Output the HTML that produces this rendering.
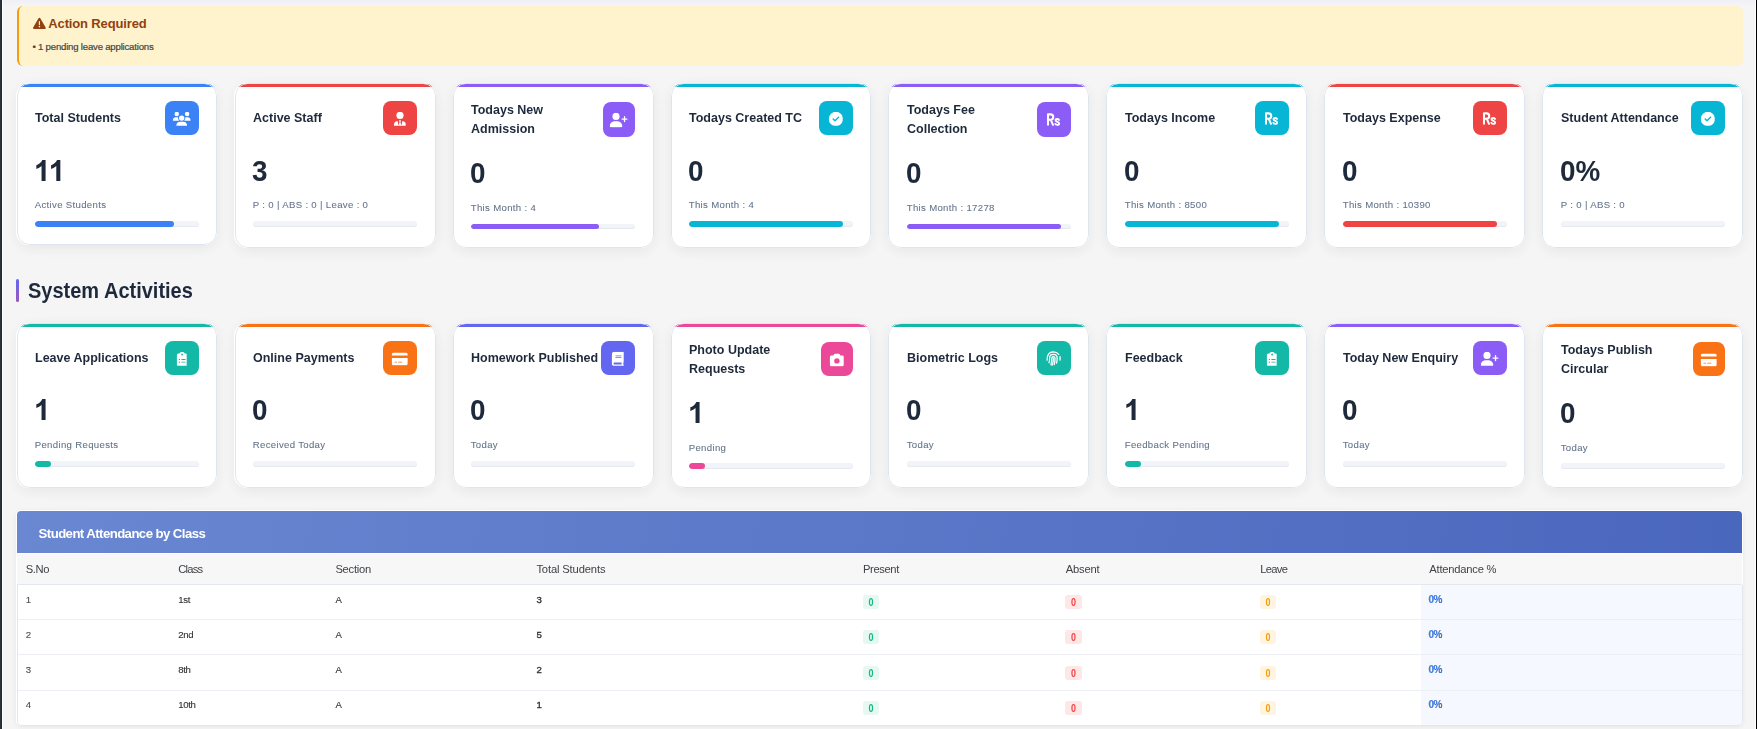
<!DOCTYPE html>
<html><head><meta charset="utf-8"><title>Dashboard</title>
<style>
*{box-sizing:border-box;margin:0;padding:0}
html,body{width:1757px;height:729px;overflow:hidden}
body{background:#f5f5f5;font-family:"Liberation Sans",sans-serif;position:relative;color:#1e293b}
.wrap{position:absolute;left:0;top:0;width:1757px;height:729px;opacity:.9999}
.topg{position:absolute;left:0;top:0;width:1757px;height:6px;background:linear-gradient(#eef0f6,#f5f5f5)}
.wl{position:absolute;top:0;width:1px;height:729px;background:#fff}
.lstrip{position:absolute;left:0;top:0;width:2px;height:729px;background:linear-gradient(90deg,#2d333b 50%,#232931 50%)}
.rline{position:absolute;left:1756px;top:0;width:1px;height:729px;background:#000}
.alert{position:absolute;left:17px;top:6px;width:1726px;height:60px;background:#fff3cd;border-left:2.2px solid #f59e0b;border-radius:6px}
.alert svg{position:absolute;left:14px;top:10.5px}
.alert .t{position:absolute;left:29.3px;top:9.5px;font-size:13px;font-weight:700;color:#92400e;letter-spacing:-0.14px;line-height:16px;white-space:nowrap}
.alert .m{position:absolute;left:13.4px;top:34.5px;font-size:9.6px;color:#444;-webkit-text-stroke:.2px #444;letter-spacing:-0.2px;line-height:12px;white-space:nowrap}
.card{position:absolute;background:#fff;border-radius:12.8px;box-shadow:0 3px 16px rgba(0,0,0,.07);overflow:hidden}
.bd{position:absolute;left:0;top:0;right:0;bottom:0;border:1px solid #dfe5ee;border-radius:12.8px;pointer-events:none}
.strip{position:absolute;left:0;right:0;top:1px;height:3.1px}
.in{position:absolute;width:200px;height:10px}
.ttl{position:absolute;left:18.1px;font-size:13px;font-weight:700;line-height:18.9px;color:#1e293b;white-space:nowrap;transform:scaleX(.962);transform-origin:0 50%}
.ic{position:absolute;border-radius:8px;display:flex;align-items:center;justify-content:center}
.ic svg{display:block;transform:translate(-.3px,.8px)}
.ic svg.rsv{transform:translate(-.1px,.85px)}
.rs{font-size:17.3px;font-weight:700;color:#fff;transform:translate(-.5px,.9px) scaleX(.6);display:block;line-height:1;letter-spacing:0;-webkit-text-stroke:.7px #fff}
.num{position:absolute;left:17.2px;font-size:29.6px;font-weight:700;line-height:36.8px;color:#1e293b;white-space:nowrap;transform:scaleX(.94);transform-origin:0 29px}
.one{position:absolute;left:16.85px}
.sub{position:absolute;left:17.8px;font-size:9.6px;letter-spacing:.33px;line-height:14.4px;color:#64748b;white-space:nowrap;-webkit-text-stroke:.08px #64748b}
.bar{position:absolute;left:17.8px;width:164.3px;height:5.2px;border-radius:4px;background:#f1f5f9;overflow:hidden;box-shadow:inset 0 -1px 1px rgba(100,116,139,.09)}
.fill{height:100%;border-radius:4px}
.sect{position:absolute;left:16px;top:279px;height:23px;width:3.2px;border-radius:2px;background:linear-gradient(#6366f1,#9b59b6)}
.secttxt{position:absolute;left:27.6px;top:279.2px;font-size:21.5px;font-weight:700;line-height:24px;color:#1e293b;white-space:nowrap;transform:scaleX(.93);transform-origin:0 50%}
.tbl{position:absolute;left:16px;top:510px;width:1727px;height:216px;background:#fff;border-radius:5px;overflow:hidden;box-shadow:0 1px 6px rgba(0,0,0,.07)}
.thead{position:absolute;left:1px;top:1px;width:1725px;height:42px;border-radius:4px 4px 0 0;background:linear-gradient(100deg,#6a87d2 0%,#4a67be 100%)}
.thead span{position:absolute;left:21.6px;top:14.9px;font-size:13.2px;font-weight:700;color:#fff;letter-spacing:-.57px;line-height:16px;white-space:nowrap}
.thr{position:absolute;left:1px;top:44px;width:1725px;height:30.7px;background:#f7f7f7;border-bottom:1px solid #e3e7ee}
.thr span{position:absolute;top:7.5px;font-size:11.2px;color:#3f4246;letter-spacing:-.33px;line-height:14px;white-space:nowrap}
.tr{position:absolute;left:1px;width:1725px;height:35.32px;border-bottom:1px solid #eceff3}
.tbd{position:absolute;left:1px;right:0;top:74.6px;bottom:0;border:1px solid #e1e6ef;border-top:0;border-radius:0 0 5px 5px}
.td{position:absolute;top:9.8px;font-size:9.6px;line-height:12px;color:#333;white-space:nowrap;letter-spacing:-.4px;-webkit-text-stroke:.12px #333}
.td.c0{color:#555}
.td.b{-webkit-text-stroke:.35px #333;color:#333}
.td.pc{font-weight:700;color:#3b82f6;top:9.2px;letter-spacing:-.6px;font-size:10px}
.bdg{position:absolute;top:10.5px;width:15.8px;height:13.8px;border-radius:3px;font-size:10.2px;font-weight:700;line-height:15.2px;text-align:center}
.bdg i{display:block;font-style:normal;transform:scaleX(.88)}
.bdg.g{background:#e6f8f1;color:#10b981}
.bdg.r{background:#fde7e7;color:#ef4444}
.bdg.o{background:#fff4e0;color:#f59e0b}
.lastbg{position:absolute;left:1404.2px;right:0;top:0;bottom:0;background:#f5f8fe}
</style></head><body><div class="wrap">
<div class="topg"></div>
<div class="alert"><svg width="12.8" height="12.8" viewBox="0 0 512 512"><path fill="#92400e" d="M256 32c14.200 0 27.300 7.500 34.500 19.800l216 368c7.300 12.400 7.300 27.700 .2 40.100S486.300 480 472 480H40c-14.300 0-27.600-7.700-34.700-20.100s-7-27.800 .2-40.100l216-368C228.700 39.500 241.800 32 256 32zm0 128c-13.300 0-24 10.700-24 24V296c0 13.300 10.700 24 24 24s24-10.700 24-24V184c0-13.300-10.700-24-24-24zm32 224a32 32 0 1 0 -64 0 32 32 0 1 0 64 0z"/></svg><div class="t">Action Required</div><div class="m">&bull; 1 pending leave applications</div></div>
<div class="card" style="left:17px;top:83px;width:200px;height:162px;box-shadow:-1px 0 0 0 #fff,0 3px 16px rgba(0,0,0,.07)">
<div class="strip" style="background:#3b82f6"></div><div class="bd"></div>
<div class="in" style="left:-0.10px;top:0.8px">
<div class="ttl" style="top:24.80px">Total Students</div>
<div class="ic" style="background:#3b82f6;left:148.2px;top:17.2px;width:33.8px;height:33.8px"><svg width="18.00" height="14.4" viewBox="0 0 640 512"><path fill="#fff" d="M144 0a80 80 0 1 1 0 160A80 80 0 1 1 144 0zM512 0a80 80 0 1 1 0 160A80 80 0 1 1 512 0zM0 298.7C0 239.8 47.8 192 106.7 192h42.700c15.900 0 31 3.500 44.600 9.700c-1.300 7.200-1.900 14.700-1.900 22.300c0 38.200 16.800 72.500 43.300 96c-.2 0-.4 0-.7 0H21.300C9.600 320 0 310.400 0 298.700zM405.300 320c-.2 0-.4 0-.7 0c26.600-23.500 43.300-57.800 43.300-96c0-7.600-.7-15-1.900-22.300c13.600-6.300 28.700-9.700 44.600-9.700h42.700C592.200 192 640 239.800 640 298.700c0 11.800-9.600 21.300-21.300 21.300H405.300zM224 224a96 96 0 1 1 192 0 96 96 0 1 1 -192 0zM128 485.300C128 411.700 187.700 352 261.300 352H378.700C452.300 352 512 411.700 512 485.300c0 14.700-11.900 26.700-26.700 26.700H154.700c-14.700 0-26.700-11.900-26.700-26.700z"/></svg></div>
<svg class="one" style="top:76.04px" width="31.13" height="21.16" viewBox="0 0 2165.3 1472" fill="#1e293b"><path transform="translate(0.0,1472) scale(1,-1)" d="M806 0H525V1059Q371 915 162 846V1101Q272 1137 401 1237.5Q530 1338 578 1472H806Z"/><path transform="translate(1026.3,1472) scale(1,-1)" d="M806 0H525V1059Q371 915 162 846V1101Q272 1137 401 1237.5Q530 1338 578 1472H806Z"/></svg>
<div class="sub" style="top:114.30px">Active Students</div>
<div class="bar" style="top:137.2px;height:5.8px"><div class="fill" style="width:85%;background:#3b82f6"></div></div>
</div></div>
<div class="card" style="left:235px;top:83px;width:201px;height:165px;box-shadow:-1px 0 0 0 #fff,0 3px 16px rgba(0,0,0,.07)">
<div class="strip" style="background:#ef4444"></div><div class="bd"></div>
<div class="in" style="left:-0.10px;top:0.8px">
<div class="ttl" style="top:24.80px">Active Staff</div>
<div class="ic" style="background:#ef4444;left:148.2px;top:17.2px;width:33.8px;height:33.8px"><svg width="12.60" height="14.4" viewBox="0 0 448 512"><path fill="#fff" d="M96 128a128 128 0 1 0 256 0A128 128 0 1 0 96 128zm94.500 200.200l18.600 31L175.800 483.100l-36-146.900c-2-8.100-9.800-13.400-17.900-11.300C51.900 342.400 0 405.800 0 481.300c0 17 13.800 30.700 30.700 30.700H162.500c0 0 0 0 .1 0H168 280h5.500c0 0 0 0 .1 0H417.300c17 0 30.700-13.800 30.700-30.700c0-75.500-51.900-138.900-121.900-156.400c-8.100-2-15.900 3.300-17.900 11.300l-36 146.900L238.900 359.200l18.600-31c6.400-10.700-1.300-24.200-13.700-24.200H224 204.300c-12.400 0-20.100 13.600-13.700 24.200z"/></svg></div>
<div class="num" style="top:69.40px">3</div>
<div class="sub" style="top:114.30px">P : 0 | ABS : 0 | Leave : 0</div>
<div class="bar" style="top:137.2px;height:5.8px"></div>
</div></div>
<div class="card" style="left:453px;top:83px;width:201px;height:165px">
<div class="strip" style="background:#8b5cf6"></div><div class="bd"></div>
<div class="in" style="left:-0.10px;top:0.8px">
<div class="ttl" style="top:16.80px">Todays New<br>Admission</div>
<div class="ic" style="background:#8b5cf6;left:149.8px;top:18.4px;width:32.0px;height:34.5px"><svg width="18.00" height="14.4" viewBox="0 0 640 512"><path fill="#fff" d="M96 128a128 128 0 1 1 256 0A128 128 0 1 1 96 128zM0 482.300C0 383.800 79.800 304 178.300 304h91.400C368.200 304 448 383.800 448 482.300c0 16.400-13.300 29.700-29.700 29.700H29.700C13.300 512 0 498.700 0 482.300zM504 312V248H440c-13.300 0-24-10.700-24-24s10.700-24 24-24h64V136c0-13.300 10.700-24 24-24s24 10.700 24 24v64h64c13.300 0 24 10.700 24 24s-10.700 24-24 24H552v64c0 13.300-10.700 24-24 24s-24-10.700-24-24z"/></svg></div>
<div class="num" style="top:71.40px">0</div>
<div class="sub" style="top:117.00px">This Month : 4</div>
<div class="bar" style="top:140.0px;height:5.1px"><div class="fill" style="width:78%;background:#8b5cf6"></div></div>
</div></div>
<div class="card" style="left:671px;top:83px;width:200px;height:165px">
<div class="strip" style="background:#06b6d4"></div><div class="bd"></div>
<div class="in" style="left:-0.10px;top:0.8px">
<div class="ttl" style="top:24.80px">Todays Created TC</div>
<div class="ic" style="background:#06b6d4;left:148.2px;top:17.2px;width:33.8px;height:33.8px"><svg width="14.40" height="14.4" viewBox="0 0 512 512"><path fill="#fff" d="M256 512A256 256 0 1 0 256 0a256 256 0 1 0 0 512zM369 209L241 337c-9.400 9.400-24.600 9.400-33.900 0l-64-64c-9.400-9.400-9.400-24.600 0-33.900s24.600-9.400 33.900 0l47 47L335 175c9.400-9.400 24.600-9.400 33.900 0s9.400 24.600 0 33.900z"/></svg></div>
<div class="num" style="top:69.40px">0</div>
<div class="sub" style="top:114.30px">This Month : 4</div>
<div class="bar" style="top:137.2px;height:5.8px"><div class="fill" style="width:94%;background:#06b6d4"></div></div>
</div></div>
<div class="card" style="left:888px;top:83px;width:201px;height:165px">
<div class="strip" style="background:#8b5cf6"></div><div class="bd"></div>
<div class="in" style="left:0.90px;top:0.8px">
<div class="ttl" style="top:16.80px">Todays Fee<br>Collection</div>
<div class="ic" style="background:#8b5cf6;left:148.2px;top:18.4px;width:33.6px;height:34.5px"><svg class="rsv" width="14" height="14" viewBox="0 0 14 14" fill="none" stroke="#fff" stroke-linejoin="round" stroke-linecap="round"><path stroke-width="2.05" d="M1.1 11.95V1.55H3.7A2.65 2.65 0 0 1 3.7 6.85H1.1M3.9 7L6.1 11.95"/><path stroke-width="1.9" d="M12.1 7.05C11.6 6.35 10.9 6.1 10.3 6.1C9.2 6.1 8.65 6.75 8.65 7.45C8.65 9.45 12.25 8.55 12.25 10.65C12.25 11.45 11.5 12 10.4 12C9.6 12 8.9 11.65 8.5 11.05"/></svg></div>
<div class="num" style="top:71.40px">0</div>
<div class="sub" style="top:117.00px">This Month : 17278</div>
<div class="bar" style="top:140.0px;height:5.1px"><div class="fill" style="width:94%;background:#8b5cf6"></div></div>
</div></div>
<div class="card" style="left:1106px;top:83px;width:201px;height:165px">
<div class="strip" style="background:#06b6d4"></div><div class="bd"></div>
<div class="in" style="left:0.90px;top:0.8px">
<div class="ttl" style="top:24.80px">Todays Income</div>
<div class="ic" style="background:#06b6d4;left:148.2px;top:17.2px;width:33.8px;height:33.8px"><svg class="rsv" width="14" height="14" viewBox="0 0 14 14" fill="none" stroke="#fff" stroke-linejoin="round" stroke-linecap="round"><path stroke-width="2.05" d="M1.1 11.95V1.55H3.7A2.65 2.65 0 0 1 3.7 6.85H1.1M3.9 7L6.1 11.95"/><path stroke-width="1.9" d="M12.1 7.05C11.6 6.35 10.9 6.1 10.3 6.1C9.2 6.1 8.65 6.75 8.65 7.45C8.65 9.45 12.25 8.55 12.25 10.65C12.25 11.45 11.5 12 10.4 12C9.6 12 8.9 11.65 8.5 11.05"/></svg></div>
<div class="num" style="top:69.40px">0</div>
<div class="sub" style="top:114.30px">This Month : 8500</div>
<div class="bar" style="top:137.2px;height:5.8px"><div class="fill" style="width:94%;background:#06b6d4"></div></div>
</div></div>
<div class="card" style="left:1324px;top:83px;width:201px;height:165px">
<div class="strip" style="background:#ef4444"></div><div class="bd"></div>
<div class="in" style="left:0.90px;top:0.8px">
<div class="ttl" style="top:24.80px">Todays Expense</div>
<div class="ic" style="background:#ef4444;left:148.2px;top:17.2px;width:33.8px;height:33.8px"><svg class="rsv" width="14" height="14" viewBox="0 0 14 14" fill="none" stroke="#fff" stroke-linejoin="round" stroke-linecap="round"><path stroke-width="2.05" d="M1.1 11.95V1.55H3.7A2.65 2.65 0 0 1 3.7 6.85H1.1M3.9 7L6.1 11.95"/><path stroke-width="1.9" d="M12.1 7.05C11.6 6.35 10.9 6.1 10.3 6.1C9.2 6.1 8.65 6.75 8.65 7.45C8.65 9.45 12.25 8.55 12.25 10.65C12.25 11.45 11.5 12 10.4 12C9.6 12 8.9 11.65 8.5 11.05"/></svg></div>
<div class="num" style="top:69.40px">0</div>
<div class="sub" style="top:114.30px">This Month : 10390</div>
<div class="bar" style="top:137.2px;height:5.8px"><div class="fill" style="width:94%;background:#ef4444"></div></div>
</div></div>
<div class="card" style="left:1542px;top:83px;width:201px;height:165px">
<div class="strip" style="background:#06b6d4"></div><div class="bd"></div>
<div class="in" style="left:0.90px;top:0.8px">
<div class="ttl" style="top:24.80px">Student Attendance</div>
<div class="ic" style="background:#06b6d4;left:148.2px;top:17.2px;width:33.8px;height:33.8px"><svg width="14.40" height="14.4" viewBox="0 0 512 512"><path fill="#fff" d="M256 512A256 256 0 1 0 256 0a256 256 0 1 0 0 512zM369 209L241 337c-9.400 9.400-24.600 9.400-33.900 0l-64-64c-9.400-9.400-9.400-24.600 0-33.900s24.600-9.400 33.900 0l47 47L335 175c9.400-9.400 24.600-9.400 33.900 0s9.400 24.600 0 33.900z"/></svg></div>
<div class="num" style="top:69.40px">0%</div>
<div class="sub" style="top:114.30px">P : 0 | ABS : 0</div>
<div class="bar" style="top:137.2px;height:5.8px"></div>
</div></div>
<div class="sect"></div><div class="secttxt">System Activities</div>
<div class="card" style="left:17px;top:323px;width:200px;height:165px;box-shadow:-1px 0 0 0 #fff,0 3px 16px rgba(0,0,0,.07)">
<div class="strip" style="background:#14b8a6"></div><div class="bd"></div>
<div class="in" style="left:-0.10px;top:0.8px">
<div class="ttl" style="top:24.80px">Leave Applications</div>
<div class="ic" style="background:#14b8a6;left:148.2px;top:17.2px;width:33.8px;height:33.8px"><svg width="10.80" height="14.4" viewBox="0 0 384 512"><path fill="#fff" d="M192 0c-41.800 0-77.400 26.700-90.500 64H64C28.700 64 0 92.700 0 128V448c0 35.300 28.700 64 64 64H320c35.300 0 64-28.700 64-64V128c0-35.300-28.700-64-64-64H282.500C269.400 26.700 233.800 0 192 0zm0 64a32 32 0 1 1 0 64 32 32 0 1 1 0-64zM72 272a24 24 0 1 1 48 0 24 24 0 1 1 -48 0zm104-16H304c8.800 0 16 7.200 16 16s-7.200 16-16 16H176c-8.800 0-16-7.200-16-16s7.200-16 16-16zM72 368a24 24 0 1 1 48 0 24 24 0 1 1 -48 0zm88 0c0-8.800 7.200-16 16-16H304c8.800 0 16 7.200 16 16s-7.200 16-16 16H176c-8.800 0-16-7.200-16-16z"/></svg></div>
<svg class="one" style="top:75.04px" width="16.37" height="21.16" viewBox="0 0 1139.0 1472" fill="#1e293b"><path transform="translate(0.0,1472) scale(1,-1)" d="M806 0H525V1059Q371 915 162 846V1101Q272 1137 401 1237.5Q530 1338 578 1472H806Z"/></svg>
<div class="sub" style="top:114.30px">Pending Requests</div>
<div class="bar" style="top:137.2px;height:5.8px"><div class="fill" style="width:10%;background:#14b8a6"></div></div>
</div></div>
<div class="card" style="left:235px;top:323px;width:201px;height:165px;box-shadow:-1px 0 0 0 #fff,0 3px 16px rgba(0,0,0,.07)">
<div class="strip" style="background:#f97316"></div><div class="bd"></div>
<div class="in" style="left:-0.10px;top:0.8px">
<div class="ttl" style="top:24.80px">Online Payments</div>
<div class="ic" style="background:#f97316;left:148.2px;top:17.2px;width:33.8px;height:33.8px"><svg width="16.20" height="14.4" viewBox="0 0 576 512"><path fill="#fff" d="M64 32C28.700 32 0 60.700 0 96v32H576V96c0-35.300-28.700-64-64-64H64zM576 224H0V416c0 35.300 28.700 64 64 64H512c35.300 0 64-28.700 64-64V224zM112 352h64c8.800 0 16 7.200 16 16s-7.200 16-16 16H112c-8.800 0-16-7.200-16-16s7.200-16 16-16zm112 16c0-8.800 7.200-16 16-16H368c8.800 0 16 7.200 16 16s-7.200 16-16 16H240c-8.800 0-16-7.200-16-16z"/></svg></div>
<div class="num" style="top:68.40px">0</div>
<div class="sub" style="top:114.30px">Received Today</div>
<div class="bar" style="top:137.2px;height:5.8px"></div>
</div></div>
<div class="card" style="left:453px;top:323px;width:201px;height:165px">
<div class="strip" style="background:#6366f1"></div><div class="bd"></div>
<div class="in" style="left:-0.10px;top:0.8px">
<div class="ttl" style="top:24.80px">Homework Published</div>
<div class="ic" style="background:#6366f1;left:148.2px;top:17.2px;width:33.8px;height:33.8px"><svg width="12.60" height="14.4" viewBox="0 0 448 512"><path fill="#fff" d="M96 0C43 0 0 43 0 96V416c0 53 43 96 96 96H384h32c17.700 0 32-14.300 32-32s-14.300-32-32-32V384c17.700 0 32-14.300 32-32V32c0-17.700-14.300-32-32-32H384 96zm0 384H352v64H96c-17.700 0-32-14.300-32-32s14.300-32 32-32zm32-240c0-8.800 7.200-16 16-16H336c8.800 0 16 7.200 16 16s-7.200 16-16 16H144c-8.800 0-16-7.200-16-16zm16 48H336c8.800 0 16 7.200 16 16s-7.200 16-16 16H144c-8.800 0-16-7.200-16-16s7.200-16 16-16z"/></svg></div>
<div class="num" style="top:68.40px">0</div>
<div class="sub" style="top:114.30px">Today</div>
<div class="bar" style="top:137.2px;height:5.8px"></div>
</div></div>
<div class="card" style="left:671px;top:323px;width:200px;height:165px">
<div class="strip" style="background:#ec4899"></div><div class="bd"></div>
<div class="in" style="left:-0.10px;top:0.8px">
<div class="ttl" style="top:16.80px">Photo Update<br>Requests</div>
<div class="ic" style="background:#ec4899;left:150.0px;top:18.4px;width:31.8px;height:33.9px"><svg width="14.40" height="14.4" viewBox="0 0 512 512"><path fill="#fff" d="M149.100 64.800L138.700 96H64C28.700 96 0 124.700 0 160V416c0 35.300 28.700 64 64 64H448c35.300 0 64-28.700 64-64V160c0-35.300-28.700-64-64-64H373.300L362.900 64.800C356.400 45.200 338.100 32 317.400 32H194.600c-20.700 0-39 13.200-45.500 32.800zM256 192a96 96 0 1 1 0 192 96 96 0 1 1 0-192z"/></svg></div>
<svg class="one" style="top:78.04px" width="16.37" height="21.16" viewBox="0 0 1139.0 1472" fill="#1e293b"><path transform="translate(0.0,1472) scale(1,-1)" d="M806 0H525V1059Q371 915 162 846V1101Q272 1137 401 1237.5Q530 1338 578 1472H806Z"/></svg>
<div class="sub" style="top:117.00px">Pending</div>
<div class="bar" style="top:139.5px;height:5.6px"><div class="fill" style="width:10%;background:#ec4899"></div></div>
</div></div>
<div class="card" style="left:888px;top:323px;width:201px;height:165px">
<div class="strip" style="background:#14b8a6"></div><div class="bd"></div>
<div class="in" style="left:0.90px;top:0.8px">
<div class="ttl" style="top:24.80px">Biometric Logs</div>
<div class="ic" style="background:#14b8a6;left:148.2px;top:17.2px;width:33.8px;height:33.8px"><svg width="14.4" height="14.4" viewBox="0 0 512 512" fill="none" stroke="#fff" stroke-width="46" stroke-linecap="round" style="overflow:visible;transform:translate(-.8px,.2px)"><path d="M30 320C30 300 20 30 256 24c90 0 150 40 190 90"/><path d="M490 190c6 40 6 90 0 130"/><path d="M100 410c20-50 22-100 22-160c0-76 58-136 134-136s134 60 134 136c0 60-4 110-20 170"/><path d="M170 480c24-70 28-140 28-220c0-34 26-62 58-62s58 28 58 62c0 80-8 150-30 220"/><path d="M256 262c0 90-10 170-46 240"/></svg></div>
<div class="num" style="top:68.40px">0</div>
<div class="sub" style="top:114.30px">Today</div>
<div class="bar" style="top:137.2px;height:5.8px"></div>
</div></div>
<div class="card" style="left:1106px;top:323px;width:201px;height:165px">
<div class="strip" style="background:#14b8a6"></div><div class="bd"></div>
<div class="in" style="left:0.90px;top:0.8px">
<div class="ttl" style="top:24.80px">Feedback</div>
<div class="ic" style="background:#14b8a6;left:148.2px;top:17.2px;width:33.8px;height:33.8px"><svg width="10.80" height="14.4" viewBox="0 0 384 512"><path fill="#fff" d="M192 0c-41.800 0-77.400 26.700-90.500 64H64C28.700 64 0 92.700 0 128V448c0 35.300 28.700 64 64 64H320c35.300 0 64-28.700 64-64V128c0-35.300-28.700-64-64-64H282.500C269.400 26.700 233.800 0 192 0zm0 64a32 32 0 1 1 0 64 32 32 0 1 1 0-64zM72 272a24 24 0 1 1 48 0 24 24 0 1 1 -48 0zm104-16H304c8.800 0 16 7.200 16 16s-7.200 16-16 16H176c-8.800 0-16-7.200-16-16s7.200-16 16-16zM72 368a24 24 0 1 1 48 0 24 24 0 1 1 -48 0zm88 0c0-8.800 7.200-16 16-16H304c8.800 0 16 7.200 16 16s-7.200 16-16 16H176c-8.800 0-16-7.200-16-16z"/></svg></div>
<svg class="one" style="top:75.04px" width="16.37" height="21.16" viewBox="0 0 1139.0 1472" fill="#1e293b"><path transform="translate(0.0,1472) scale(1,-1)" d="M806 0H525V1059Q371 915 162 846V1101Q272 1137 401 1237.5Q530 1338 578 1472H806Z"/></svg>
<div class="sub" style="top:114.30px">Feedback Pending</div>
<div class="bar" style="top:137.2px;height:5.8px"><div class="fill" style="width:10%;background:#14b8a6"></div></div>
</div></div>
<div class="card" style="left:1324px;top:323px;width:201px;height:165px">
<div class="strip" style="background:#8b5cf6"></div><div class="bd"></div>
<div class="in" style="left:0.90px;top:0.8px">
<div class="ttl" style="top:24.80px">Today New Enquiry</div>
<div class="ic" style="background:#8b5cf6;left:148.2px;top:17.2px;width:33.8px;height:33.8px"><svg width="18.00" height="14.4" viewBox="0 0 640 512"><path fill="#fff" d="M96 128a128 128 0 1 1 256 0A128 128 0 1 1 96 128zM0 482.300C0 383.800 79.800 304 178.300 304h91.400C368.200 304 448 383.800 448 482.300c0 16.400-13.300 29.700-29.700 29.700H29.700C13.300 512 0 498.700 0 482.300zM504 312V248H440c-13.300 0-24-10.700-24-24s10.700-24 24-24h64V136c0-13.300 10.700-24 24-24s24 10.700 24 24v64h64c13.300 0 24 10.700 24 24s-10.700 24-24 24H552v64c0 13.300-10.700 24-24 24s-24-10.700-24-24z"/></svg></div>
<div class="num" style="top:68.40px">0</div>
<div class="sub" style="top:114.30px">Today</div>
<div class="bar" style="top:137.2px;height:5.8px"></div>
</div></div>
<div class="card" style="left:1542px;top:323px;width:201px;height:165px">
<div class="strip" style="background:#f97316"></div><div class="bd"></div>
<div class="in" style="left:0.90px;top:0.8px">
<div class="ttl" style="top:16.80px">Todays Publish<br>Circular</div>
<div class="ic" style="background:#f97316;left:150.0px;top:18.4px;width:31.8px;height:33.9px"><svg width="16.20" height="14.4" viewBox="0 0 576 512"><path fill="#fff" d="M64 32C28.700 32 0 60.700 0 96v32H576V96c0-35.300-28.700-64-64-64H64zM576 224H0V416c0 35.300 28.700 64 64 64H512c35.300 0 64-28.700 64-64V224zM112 352h64c8.800 0 16 7.200 16 16s-7.200 16-16 16H112c-8.800 0-16-7.200-16-16s7.200-16 16-16zm112 16c0-8.800 7.200-16 16-16H368c8.800 0 16 7.200 16 16s-7.200 16-16 16H240c-8.800 0-16-7.200-16-16z"/></svg></div>
<div class="num" style="top:71.40px">0</div>
<div class="sub" style="top:117.00px">Today</div>
<div class="bar" style="top:139.5px;height:5.6px"></div>
</div></div>
<div class="tbl">
<div class="thead"><span>Student Attendance by Class</span></div>
<div class="thr"><span style="left:8.7px;letter-spacing:-.35px">S.No</span><span style="left:161.3px;letter-spacing:-.8px">Class</span><span style="left:318.4px;letter-spacing:-.26px">Section</span><span style="left:519.4px;letter-spacing:-.14px">Total Students</span><span style="left:846px;letter-spacing:-.38px">Present</span><span style="left:1048.7px;letter-spacing:-.16px">Absent</span><span style="left:1243.2px;letter-spacing:-.7px">Leave</span><span style="left:1412.3px;letter-spacing:-.22px">Attendance %</span></div>
<div class="tr" style="top:74.60px"><span class="td c0" style="left:8.7px;top:9.10px">1</span><span class="td" style="left:161.3px;top:9.10px">1st</span><span class="td" style="left:318.4px;top:9.10px">A</span><span class="td b" style="left:519.4px;top:9.10px">3</span><span class="bdg g" style="left:846px"><i>0</i></span><span class="bdg r" style="left:1048.2px;width:16.8px"><i>0</i></span><span class="bdg o" style="left:1243.2px"><i>0</i></span><span class="lastbg"></span><span class="td pc" style="left:1411.6px;top:9.60px">0%</span></div><div class="tr" style="top:109.92px"><span class="td c0" style="left:8.7px;top:8.78px">2</span><span class="td" style="left:161.3px;top:8.78px">2nd</span><span class="td" style="left:318.4px;top:8.78px">A</span><span class="td b" style="left:519.4px;top:8.78px">5</span><span class="bdg g" style="left:846px"><i>0</i></span><span class="bdg r" style="left:1048.2px;width:16.8px"><i>0</i></span><span class="bdg o" style="left:1243.2px"><i>0</i></span><span class="lastbg"></span><span class="td pc" style="left:1411.6px;top:9.28px">0%</span></div><div class="tr" style="top:145.24px"><span class="td c0" style="left:8.7px;top:8.46px">3</span><span class="td" style="left:161.3px;top:8.46px">8th</span><span class="td" style="left:318.4px;top:8.46px">A</span><span class="td b" style="left:519.4px;top:8.46px">2</span><span class="bdg g" style="left:846px"><i>0</i></span><span class="bdg r" style="left:1048.2px;width:16.8px"><i>0</i></span><span class="bdg o" style="left:1243.2px"><i>0</i></span><span class="lastbg"></span><span class="td pc" style="left:1411.6px;top:8.96px">0%</span></div><div class="tr" style="top:180.56px"><span class="td c0" style="left:8.7px;top:8.14px">4</span><span class="td" style="left:161.3px;top:8.14px">10th</span><span class="td" style="left:318.4px;top:8.14px">A</span><span class="td b" style="left:519.4px;top:8.14px">1</span><span class="bdg g" style="left:846px"><i>0</i></span><span class="bdg r" style="left:1048.2px;width:16.8px"><i>0</i></span><span class="bdg o" style="left:1243.2px"><i>0</i></span><span class="lastbg"></span><span class="td pc" style="left:1411.6px;top:8.64px">0%</span></div>
<div class="tbd"></div></div>
<div class="wl" style="left:2px"></div><div class="wl" style="left:1755px"></div><div class="lstrip"></div><div class="rline"></div>
</div></body></html>
